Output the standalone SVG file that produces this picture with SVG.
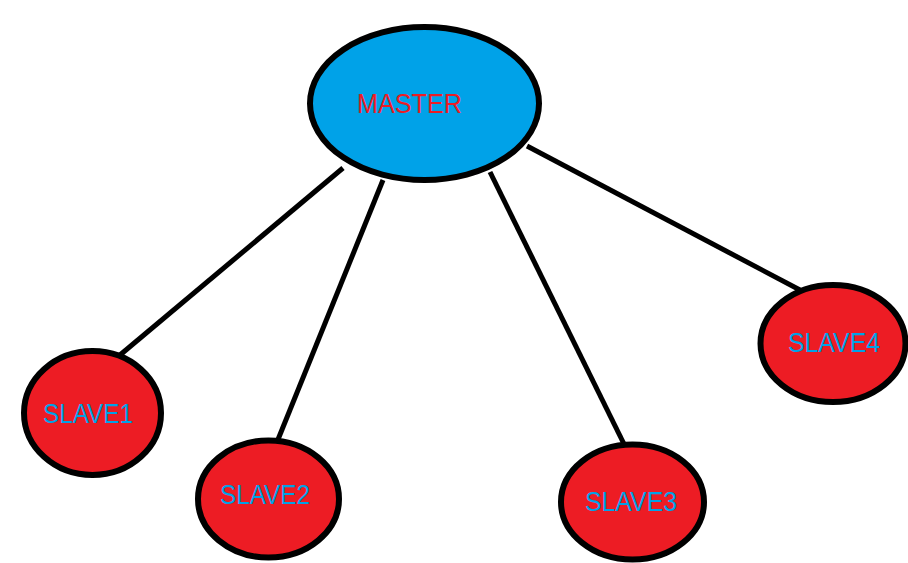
<svg xmlns="http://www.w3.org/2000/svg" width="908" height="563" viewBox="0 0 908 563">
  <style>
    .edge { stroke: #000; stroke-width: 5; fill: none; }
    .master { fill: #00A2E8; stroke: #000; stroke-width: 6; }
    .slave { fill: #ED1C24; stroke: #000; stroke-width: 6; }
    .label { font-family: "Liberation Sans", Arial, sans-serif; font-size: 28px; }
    .mlabel { fill: #ED1C24; }
    .slabel { fill: #00A2E8; }
  </style>
  <rect width="908" height="563" fill="#fff"/>

  <!-- connectors from the master to each slave -->
  <g id="connectors">
    <line class="edge" x1="343" y1="168" x2="120" y2="355"/>
    <line class="edge" x1="383" y1="180" x2="277" y2="442"/>
    <line class="edge" x1="490" y1="172" x2="624" y2="444"/>
    <line class="edge" x1="527" y1="146" x2="800" y2="290"/>
  </g>

  <g id="master">
    <ellipse class="master" cx="424.5" cy="103.5" rx="114.5" ry="76.5"/>
    <text class="label mlabel" x="357" y="113" textLength="105" lengthAdjust="spacingAndGlyphs">MASTER</text>
  </g>

  <g id="slave1">
    <ellipse class="slave" cx="92.5" cy="413" rx="68.5" ry="62"/>
    <text class="label slabel" x="43" y="423" textLength="90" lengthAdjust="spacingAndGlyphs">SLAVE1</text>
  </g>

  <g id="slave2">
    <ellipse class="slave" cx="268.5" cy="499" rx="70.5" ry="58.5"/>
    <text class="label slabel" x="220" y="504" textLength="90" lengthAdjust="spacingAndGlyphs">SLAVE2</text>
  </g>

  <g id="slave3">
    <ellipse class="slave" cx="632.5" cy="502" rx="71.5" ry="57.5"/>
    <text class="label slabel" x="585" y="511" textLength="92" lengthAdjust="spacingAndGlyphs">SLAVE3</text>
  </g>

  <g id="slave4">
    <ellipse class="slave" cx="833" cy="343.5" rx="72.5" ry="58.5"/>
    <text class="label slabel" x="788" y="352" textLength="92" lengthAdjust="spacingAndGlyphs">SLAVE4</text>
  </g>
</svg>
